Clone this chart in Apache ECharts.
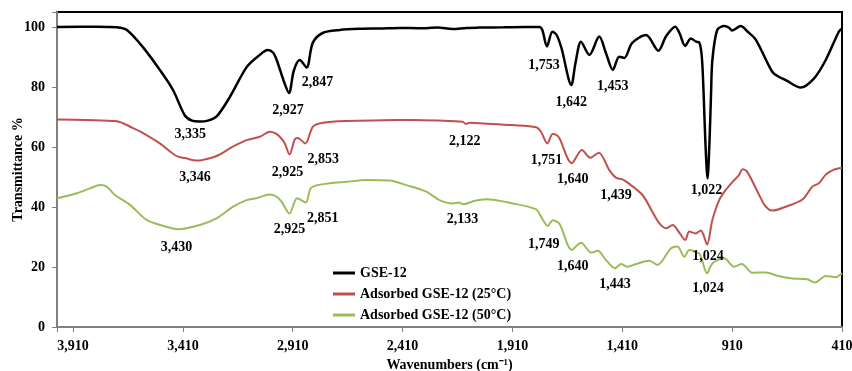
<!DOCTYPE html>
<html>
<head>
<meta charset="utf-8">
<script src="https://cdn.jsdelivr.net/npm/echarts@6/dist/echarts.min.js"></script>
<style>
  html, body { margin: 0; padding: 0; background: #fff; }
  #chart { width: 852px; height: 371px; }
</style>
</head>
<body>
<div id="chart"></div>
<script>
// FTIR spectra: wavenumber (cm-1) vs transmittance (%)
const gseWn = [3983,3800,3710,3665,3592,3515,3455,3401,3369,3335,3296,3255,3196,3119,3060,3024,3000,2983,2951,2927,2905,2878,2847,2819,2774,2696,2600,2515,2420,2333,2250,2183,2120,2060,1950,1850,1787,1774,1753,1728,1710,1687,1642,1623,1598,1560,1515,1483,1453,1424,1401,1365,1302,1246,1210,1169,1150,1124,1098,1074,1060,1048,1040,1032,1022,1013,1006,1000,978,946,925,910,871,840,802,728,700,666,598,537,484,424,410];
const gseT  = [100,100.1,99.9,99,93.3,85.7,79,70.5,68.8,68.5,68.8,70.3,76.7,86.7,90.7,92.3,91.5,89,82,78,85.5,89,86.5,94.7,98,99,99.4,99.5,99.7,99.6,99.8,99.3,99.7,99.8,99.9,100,100,99,93.5,98.4,97.5,93,80.7,88,95.1,90.7,96.8,91,85.7,90.1,89.7,94.7,97.3,92.1,97,100.1,98,93.7,96.2,95.1,94.9,90,78,62,49.5,62,78,89,99,100.3,99.8,98.8,100.3,98.5,95.7,85.1,83.5,82.3,79.8,82.9,89,98.5,99.5];

const ads25Wn = [3983,3850,3710,3637,3605,3515,3439,3400,3346,3325,3257,3183,3120,3060,3015,2990,2969,2946,2925,2901,2888,2853,2818,2772,2666,2500,2365,2250,2137,2122,2105,2060,1910,1802,1780,1751,1727,1710,1696,1640,1594,1556,1517,1469,1439,1409,1378,1318,1274,1242,1211,1181,1151,1124,1105,1076,1052,1042,1024,1000,969,939,908,878,863,842,787,757,727,666,590,545,515,484,454,424,410];
const ads25T  = [69.2,69,68.6,66.3,65.2,61.2,57,56.3,55.5,55.6,57,60.1,62.3,63.4,65.1,64.6,63.4,61.2,57.5,62.5,63,61.2,66.8,68.1,68.7,68.9,69,68.8,68.4,67.7,68.1,67.9,67.3,66.6,65.1,61.2,64.3,64,62.9,54.6,59,56.4,58.1,52.3,49.8,49.2,47.7,44,38.5,34.6,32.9,34,31.5,29,31.8,31.2,32.2,31,27.5,35.7,42.3,45.7,48.4,50.7,52.6,51.8,44,40.1,38.8,40.1,42.5,46.8,47.9,50.8,52.2,52.9,53];

const ads50Wn = [3983,3893,3833,3787,3757,3719,3651,3575,3500,3430,3333,3257,3181,3120,3075,3015,2985,2961,2925,2890,2851,2825,2742,2666,2575,2469,2393,2302,2242,2181,2155,2133,2085,2030,1909,1802,1780,1749,1727,1696,1640,1598,1552,1522,1484,1443,1416,1386,1348,1287,1250,1189,1159,1128,1105,1075,1055,1024,1000,946,901,866,818,757,704,636,568,533,484,439,410];
const ads50T  = [42.9,44.6,46.2,47.3,46.8,44,40.7,35.7,33.7,32.6,34,36.2,40.1,42.3,42.9,44.2,43.5,41.8,37.8,42.9,41.5,46.5,47.9,48.4,49,48.8,47.3,45.1,42.3,41.2,41.5,40.9,42,42.6,41.2,39.2,36.8,33.7,35.6,34.4,25.7,28.1,24.8,25.4,22.3,19.6,21,20.1,21,22.1,20.7,26.2,26.8,23.4,25.7,25.1,24,17.9,21.2,22.9,20.1,21,18.1,18.2,17.1,16.2,15.9,14.8,17,16.6,17.9];

// Labelled band positions (cm-1)
const gsePeaks   = [3335, 2927, 2847, 1753, 1642, 1453, 1022];
const ads25Peaks = [3346, 2925, 2853, 2122, 1751, 1640, 1439, 1024];
const ads50Peaks = [3430, 2925, 2851, 2133, 1749, 1640, 1443, 1024];

const seriesNames = ['GSE-12', 'Adsorbed GSE-12 (25°C)', 'Adsorbed GSE-12 (50°C)'];
const xTicks = [3910, 3410, 2910, 2410, 1910, 1410, 910, 410];

// label placement relative to each band minimum (pixels)
const gseOffsets   = [[-9,13],[-1,17],[11,15],[-3,19],[0,17],[0,16],[-1,12]];
const ads25Offsets = [[-2,17],[-2,18],[18,16],[-1,17],[-1,17],[1,16],[0,18],[1,12]];
const ads50Offsets = [[-2,18],[0,16],[17,16],[-1,15],[-4,18],[1,16],[0,16],[1,15]];

const FONT = '"Liberation Serif", "Times New Roman", serif';
const colors = ['#000000', '#C0504D', '#9BBB59'];

function pairs(wn, t) { return wn.map((w, i) => [w, t[i]]); }
function fmt(v) { return Number(v).toLocaleString('en-US'); }

function peakMarks(wn, t, peaks, offsets) {
  return peaks.map((p, i) => {
    const idx = wn.indexOf(p);
    return {
      coord: [p, t[idx]],
      value: p,
      label: { offset: offsets[i] }
    };
  });
}

function makeSeries(name, wn, t, peaks, offsets, color, width) {
  return {
    name: name,
    type: 'line',
    data: pairs(wn, t),
    symbol: 'none',
    smooth: 0.3,
    lineStyle: { color: color, width: width },
    itemStyle: { color: color },
    markPoint: {
      symbol: 'circle',
      symbolSize: 0.1,
      itemStyle: { color: 'rgba(0,0,0,0)' },
      silent: true,
      label: {
        show: true,
        position: 'inside',
        color: '#000',
        fontFamily: FONT,
        fontWeight: 'bold',
        fontSize: 14,
        formatter: p => fmt(p.value)
      },
      data: peakMarks(wn, t, peaks, offsets)
    }
  };
}

const chart = echarts.init(document.getElementById('chart'), null, { renderer: 'canvas' });
chart.setOption({
  animation: false,
  backgroundColor: '#fff',
  grid: {
    left: 57, right: 10, top: 12, bottom: 44,
    outerBoundsMode: 'none',
    containLabel: false,
    show: true, borderColor: '#000', borderWidth: 2, backgroundColor: 'transparent'
  },
  legend: {
    data: seriesNames,
    orient: 'vertical',
    left: 333, top: 266,
    padding: 0,
    icon: 'rect',
    itemWidth: 22, itemHeight: 3, itemGap: 7,
    textStyle: { fontFamily: FONT, fontWeight: 'bold', fontSize: 14, color: '#000' }
  },
  xAxis: {
    type: 'value',
    inverse: true,
    min: 410, max: 3983, interval: 500,
    name: 'Wavenumbers (cm⁻¹)',
    nameLocation: 'middle',
    nameGap: 31,
    nameMoveOverlap: false,
    nameTextStyle: { fontFamily: FONT, fontWeight: 'bold', fontSize: 14, color: '#000' },
    axisLine: { lineStyle: { color: '#808080', width: 2 } },
    axisTick: { show: true, length: 5, lineStyle: { color: '#808080', width: 1 } },
    axisLabel: {
      margin: 12,
      fontFamily: FONT, fontWeight: 'bold', fontSize: 14, color: '#000',
      formatter: v => xTicks.indexOf(v) >= 0 ? fmt(v) : ''
    },
    splitLine: { show: false }
  },
  yAxis: {
    type: 'value',
    min: 0, max: 105, interval: 20,
    name: 'Transmittance %',
    nameLocation: 'middle',
    nameGap: 32,
    nameMoveOverlap: false,
    nameTextStyle: { fontFamily: FONT, fontWeight: 'bold', fontSize: 14, color: '#000' },
    axisLine: { show: true, lineStyle: { color: '#808080', width: 2 } },
    axisTick: { show: true, length: 5, lineStyle: { color: '#808080', width: 1 } },
    axisLabel: {
      margin: 12,
      fontFamily: FONT, fontWeight: 'bold', fontSize: 14, color: '#000',
      formatter: v => (v % 20 === 0 ? String(v) : '')
    },
    splitLine: { show: false }
  },
  series: [
    makeSeries(seriesNames[0], gseWn, gseT, gsePeaks, gseOffsets, colors[0], 2.5),
    makeSeries(seriesNames[1], ads25Wn, ads25T, ads25Peaks, ads25Offsets, colors[1], 2),
    makeSeries(seriesNames[2], ads50Wn, ads50T, ads50Peaks, ads50Offsets, colors[2], 2)
  ]
});
</script>
</body>
</html>
